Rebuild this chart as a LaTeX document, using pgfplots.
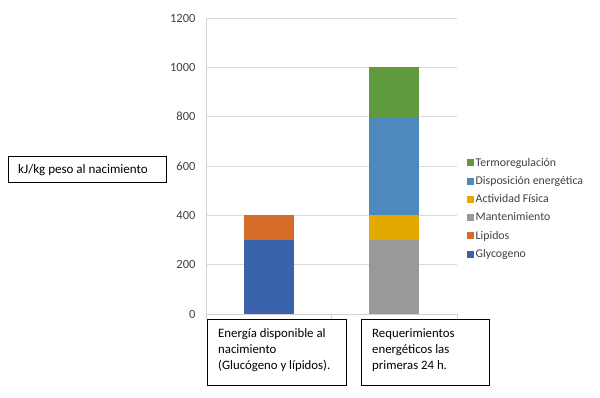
\documentclass[border=0pt]{standalone}
\usepackage{pgfplots}
\pgfplotsset{compat=1.18}
\usepackage{fontspec}
\setmainfont{Carlito}
\definecolor{cgreen}{HTML}{5F9B3C}
\definecolor{cltblue}{HTML}{4E89BE}
\definecolor{cgold}{HTML}{E2AA00}
\definecolor{cgray}{HTML}{999999}
\definecolor{corange}{HTML}{D56C2A}
\definecolor{cblue}{HTML}{3B63AC}
\definecolor{ctick}{HTML}{404040}
\begin{document}
\begin{tikzpicture}[x=1pt,y=1pt]
\path[use as bounding box] (0,0) rectangle (600,397);
\begin{axis}[
  at={(206pt,83pt)}, anchor=south west,
  scale only axis, width=251pt, height=296pt,
  ybar stacked, bar width=50pt,
  xmin=-0.5, xmax=1.5, ymin=0, ymax=1200,
  ytick={0,200,400,600,800,1000,1200},
  xtick={-0.5,0.5,1.5}, xticklabels={},
  axis x line*=bottom, axis y line*=left,
  axis line style={draw=gray!35,-},
  ymajorgrids, grid style={draw=gray!30, line width=0.6pt},
  ytick style={draw=none},
  xtick style={draw=gray!35},
  tick align=outside, major tick length=5pt,
  yticklabel style={font=\fontsize{12.5}{14}\selectfont, text=ctick, xshift=-2pt},
  /pgf/number format/assume math mode=true,
  /pgf/number format/1000 sep={},
  reverse legend,
  legend cell align=left,
  legend style={at={(1.04,0.533)}, anchor=north west, draw=none, fill=none,
    inner sep=0pt, font=\fontsize{11.8}{13}\selectfont, text=ctick, row sep=5.6pt,
    nodes={inner sep=1.5pt}},
  legend image code/.code={\fill[#1,draw=none] (0pt,-3.5pt) rectangle (7pt,3.5pt);},
]
\addplot[fill=cblue, draw=none] coordinates {(0,300) (1,0)};
\addlegendentry{Glycogeno}
\addplot[fill=corange, draw=none] coordinates {(0,100) (1,0)};
\addlegendentry{Lipidos}
\addplot[fill=cgray, draw=none] coordinates {(0,0) (1,300)};
\addlegendentry{Mantenimiento}
\addplot[fill=cgold, draw=none] coordinates {(0,0) (1,100)};
\addlegendentry{Actividad Física}
\addplot[fill=cltblue, draw=none] coordinates {(0,0) (1,400)};
\addlegendentry{Disposición energética}
\addplot[fill=cgreen, draw=none] coordinates {(0,0) (1,200)};
\addlegendentry{Termoregulación}
\end{axis}
\draw[line width=0.8pt] (8,215) rectangle (166,241);
\node[anchor=west, font=\fontsize{13}{15}\selectfont, inner sep=0pt] at (18,227) {kJ/kg peso al nacimiento};
\draw[line width=0.8pt] (207,12) rectangle (346,78);
\node[anchor=north west, align=left, font=\fontsize{12.8}{16}\selectfont, inner sep=0pt] at (218,69) {Energía disponible al\\nacimiento\\(Glucógeno y lípidos).};
\draw[line width=0.8pt] (361,12) rectangle (489,78);
\node[anchor=north west, align=left, font=\fontsize{12.8}{16}\selectfont, inner sep=0pt] at (372,69) {Requerimientos\\energéticos las\\primeras 24 h.};
\end{tikzpicture}
\end{document}
